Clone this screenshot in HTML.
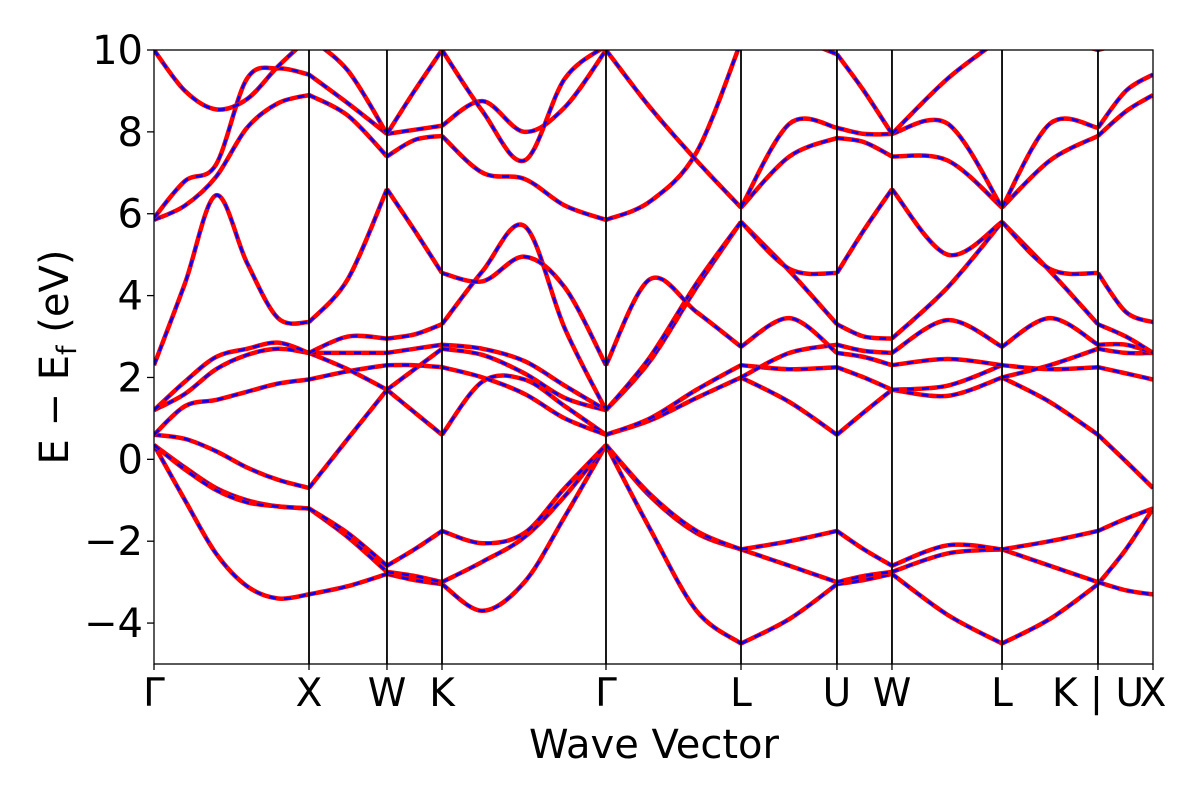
<!DOCTYPE html>
<html><head><meta charset="utf-8">
<style>
html,body{margin:0;padding:0;background:#fff;}
svg{display:block;font-family:"DejaVu Sans","Liberation Sans",sans-serif;}
</style></head>
<body>
<svg id="chart" width="1200" height="800" viewBox="0 0 1200 800" xmlns="http://www.w3.org/2000/svg">
<defs><clipPath id="plotclip"><rect x="154" y="50" width="999" height="614"/></clipPath></defs>
<rect x="0" y="0" width="1200" height="800" fill="#fff"/>
<g id="bands" clip-path="url(#plotclip)"></g>
<g id="vlines"></g>
<rect x="154" y="50" width="999" height="614" fill="none" stroke="#000" stroke-width="1.3"/>
<g id="yaxis"></g>
<g id="xaxis"></g>
<text x="654" y="758" font-size="40" text-anchor="middle">Wave Vector</text>
<text transform="translate(68,357) rotate(-90)" font-size="40" text-anchor="middle">E − E<tspan font-size="27" dy="8">f</tspan><tspan dy="-8"> (eV)</tspan></text>
</svg>
<script>
// High-symmetry k-points (k-distance units)
const kLabels = ["Γ","X","W","K","Γ","L","U","W","L","K | U","X"];
const kPoints = [0, 1.0, 1.503, 1.858, 2.916, 3.787, 4.406, 4.761, 5.471, 6.090, 6.445];
const yTicks = [-4,-2,0,2,4,6,8,10];
const yTickLabels = ["−4","−2","0","2","4","6","8","10"];
// k sample grids for each path segment
const segGrids = [
  [0,0.2,0.4,0.6,0.8,1.0],
  [1.0,1.25,1.503],
  [1.503,1.68,1.858],
  [1.858,2.12,2.39,2.65,2.916],
  [2.916,3.2,3.5,3.787],
  [3.787,4.1,4.406],
  [4.406,4.58,4.761],
  [4.761,5.12,5.471],
  [5.471,5.78,6.090],
  [6.090,6.27,6.445]
];
// Band energies (eV) per segment
const bandsGX = [
  [0.35,-1.0,-2.3,-3.1,-3.4,-3.3],[0.35,-0.2,-0.7,-1.0,-1.15,-1.2],[0.35,-0.25,-0.75,-1.05,-1.15,-1.2],
  [0.6,0.5,0.2,-0.2,-0.5,-0.7],[0.6,1.3,1.45,1.65,1.85,1.95],[1.2,1.6,2.2,2.55,2.7,2.6],
  [1.2,1.9,2.5,2.7,2.85,2.6],[2.3,4.3,6.45,4.8,3.45,3.35],[5.85,6.2,6.9,8.1,8.7,8.9],
  [5.9,6.8,7.2,9.3,9.55,9.4],[10,9.0,8.55,8.8,9.6,10.3]
];
const bandsXW = [
  [-3.3,-3.1,-2.8],[-1.2,-1.9,-2.75],[-1.2,-1.8,-2.6],[-0.7,0.5,1.7],[1.95,2.15,2.3],[2.6,2.2,1.7],
  [2.6,2.6,2.6],[2.6,3.0,2.95],[3.35,4.4,6.6],[8.9,8.4,7.4],[9.4,8.7,7.95],[10.3,9.5,7.95]
];
const bandsWK = [
  [-2.8,-2.95,-3.05],[-2.75,-2.85,-3.0],[-2.6,-2.2,-1.75],[1.7,1.15,0.6],[2.3,2.3,2.25],[1.7,2.2,2.7],
  [2.6,2.7,2.8],[2.95,3.05,3.3],[6.6,5.6,4.55],[7.4,7.8,7.9],[7.95,8.05,8.15],[7.95,9.0,10]
];
const bandsKG = [
  [-3.05,-3.7,-3.0,-1.4,0.35],[-3.0,-2.5,-1.9,-0.9,0.35],[-1.75,-2.05,-1.8,-0.7,0.35],
  [0.6,1.9,1.95,1.3,0.6],[2.25,2.0,1.6,1.0,0.6],[2.7,2.55,2.1,1.5,1.2],[2.8,2.7,2.4,1.8,1.2],
  [3.3,4.6,5.7,3.2,1.2],[4.55,4.35,4.95,4.2,2.3],[7.9,7.0,6.85,6.2,5.85],
  [8.15,8.75,8.0,8.6,10],[10,8.5,7.3,9.3,10.1]
];
const bandsGL = [
  [0.35,-1.7,-3.7,-4.5],[0.35,-0.9,-1.8,-2.2],[0.35,-0.85,-1.75,-2.2],[0.6,0.95,1.5,2.0],
  [0.6,1.0,1.7,2.3],[1.2,2.4,4.2,5.8],[1.2,2.5,4.3,5.8],[2.3,4.4,3.6,2.75],
  [5.85,6.3,7.5,10.2],[10,8.6,7.3,6.15]
];
const bandsLU = [
  [-4.5,-3.9,-3.05],[-2.2,-2.6,-3.0],[-2.2,-2.0,-1.75],[2.0,1.4,0.6],[2.3,2.2,2.25],[2.0,2.6,2.8],
  [2.75,3.45,2.6],[5.8,4.6,3.3],[5.8,4.65,4.55],[6.15,7.4,7.85],[6.15,8.2,8.1],[10.3,10.3,9.9]
];
const bandsUW = [
  [-3.05,-2.95,-2.8],[-3.0,-2.85,-2.75],[-1.75,-2.2,-2.6],[0.6,1.15,1.7],[2.25,2.0,1.7],[2.6,2.5,2.3],
  [2.8,2.65,2.6],[3.3,3.0,2.95],[4.55,5.6,6.6],[7.85,7.75,7.4],[8.1,7.95,7.95],[9.9,9.0,7.95]
];
const bandsWL = [
  [-2.8,-3.8,-4.5],[-2.75,-2.3,-2.2],[-2.6,-2.1,-2.2],[1.7,1.55,2.0],[1.7,1.8,2.3],[2.3,2.45,2.3],
  [2.6,3.4,2.75],[2.95,4.2,5.8],[6.6,5.0,5.8],[7.4,7.3,6.15],[7.95,8.2,6.15],[7.95,9.3,10.3]
];
const bandsLK = [
  [-4.5,-3.9,-3.05],[-2.2,-2.6,-3.0],[-2.2,-2.0,-1.75],[2.0,1.4,0.6],[2.3,2.2,2.25],[2.0,2.3,2.7],
  [2.75,3.45,2.8],[5.8,4.6,3.3],[5.8,4.65,4.55],[6.15,7.3,7.9],[6.15,8.2,8.1],[10.3,10.3,10]
];
const bandsKX = [
  [-3.05,-2.2,-1.2],[-3.0,-3.2,-3.3],[-1.75,-1.45,-1.2],[0.6,-0.05,-0.7],[2.25,2.1,1.95],[2.7,2.6,2.6],
  [2.8,2.8,2.6],[3.3,3.0,2.6],[4.55,3.6,3.35],[7.9,8.5,8.9],[8.1,9.0,9.4],[10,10.2,10.5]
];
const segBands = [bandsGX,bandsXW,bandsWK,bandsKG,bandsGL,bandsLU,bandsUW,bandsWL,bandsLK,bandsKX];

const NS = "http://www.w3.org/2000/svg";
const X0 = 154, X1 = 1153, Y0 = 664, Y1 = 50, EMIN = -5, EMAX = 10;
const kMax = kPoints[kPoints.length-1];
function xs(k){ return X0 + (k / kMax) * (X1 - X0); }
function ys(e){ return Y0 - (e - EMIN) / (EMAX - EMIN) * (Y0 - Y1); }

function smoothPath(pts){
  let d = "M" + pts[0][0].toFixed(2) + "," + pts[0][1].toFixed(2);
  for (let i = 0; i < pts.length - 1; i++){
    const p0 = pts[Math.max(0,i-1)], p1 = pts[i], p2 = pts[i+1], p3 = pts[Math.min(pts.length-1,i+2)];
    const c1x = p1[0] + (p2[0]-p0[0])/6, c1y = p1[1] + (p2[1]-p0[1])/6;
    const c2x = p2[0] - (p3[0]-p1[0])/6, c2y = p2[1] - (p3[1]-p1[1])/6;
    d += " C" + c1x.toFixed(2)+","+c1y.toFixed(2)+" "+c2x.toFixed(2)+","+c2y.toFixed(2)+" "+p2[0].toFixed(2)+","+p2[1].toFixed(2);
  }
  return d;
}

const gB = document.getElementById("bands");
segBands.forEach(function(bands, s){
  const grid = segGrids[s];
  bands.forEach(function(vals, b){
    const pts = vals.map(function(v, i){ return [xs(grid[i]), ys(v)]; });
    const d = smoothPath(pts);
    const red = document.createElementNS(NS, "path");
    red.setAttribute("d", d);
    red.setAttribute("fill", "none");
    red.setAttribute("stroke", "#ff0000");
    red.setAttribute("stroke-width", "4.5");
    
    
    gB.appendChild(red);
    const blue = document.createElementNS(NS, "path");
    blue.setAttribute("d", d);
    blue.setAttribute("fill", "none");
    blue.setAttribute("stroke", "#0000ff");
    blue.setAttribute("stroke-width", "2.6");
    blue.setAttribute("stroke-dasharray", "7,8");
    
    
    gB.appendChild(blue);
  });
});

const gV = document.getElementById("vlines");
const gX = document.getElementById("xaxis");
kPoints.forEach(function(k, i){
  const x = xs(k);
  if (i > 0 && i < kPoints.length-1){
    const ln = document.createElementNS(NS, "line");
    ln.setAttribute("x1", x); ln.setAttribute("x2", x);
    ln.setAttribute("y1", Y1); ln.setAttribute("y2", Y0);
    ln.setAttribute("stroke", "#000"); ln.setAttribute("stroke-width", "1.8");
    
    
    gV.appendChild(ln);
  }
  const tk = document.createElementNS(NS, "line");
  tk.setAttribute("x1", x); tk.setAttribute("x2", x);
  tk.setAttribute("y1", Y0); tk.setAttribute("y2", Y0 + 6);
  tk.setAttribute("stroke", "#000"); tk.setAttribute("stroke-width", "1.3");
  
  
  gX.appendChild(tk);
  const t = document.createElementNS(NS, "text");
  t.setAttribute("x", x); t.setAttribute("y", 706);
  t.setAttribute("font-size", "39");
  t.setAttribute("text-anchor", "middle");
  
  
  t.textContent = kLabels[i];
  gX.appendChild(t);
});

const gY = document.getElementById("yaxis");
yTicks.forEach(function(v, i){
  const y = ys(v);
  const tk = document.createElementNS(NS, "line");
  tk.setAttribute("x1", X0 - 7); tk.setAttribute("x2", X0);
  tk.setAttribute("y1", y); tk.setAttribute("y2", y);
  tk.setAttribute("stroke", "#000"); tk.setAttribute("stroke-width", "1.3");
  
  
  gY.appendChild(tk);
  const t = document.createElementNS(NS, "text");
  t.setAttribute("x", X0 - 11); t.setAttribute("y", y + 14);
  t.setAttribute("font-size", "40");
  t.setAttribute("text-anchor", "end");
  
  
  t.textContent = yTickLabels[i];
  gY.appendChild(t);
});
</script>
</body></html>
